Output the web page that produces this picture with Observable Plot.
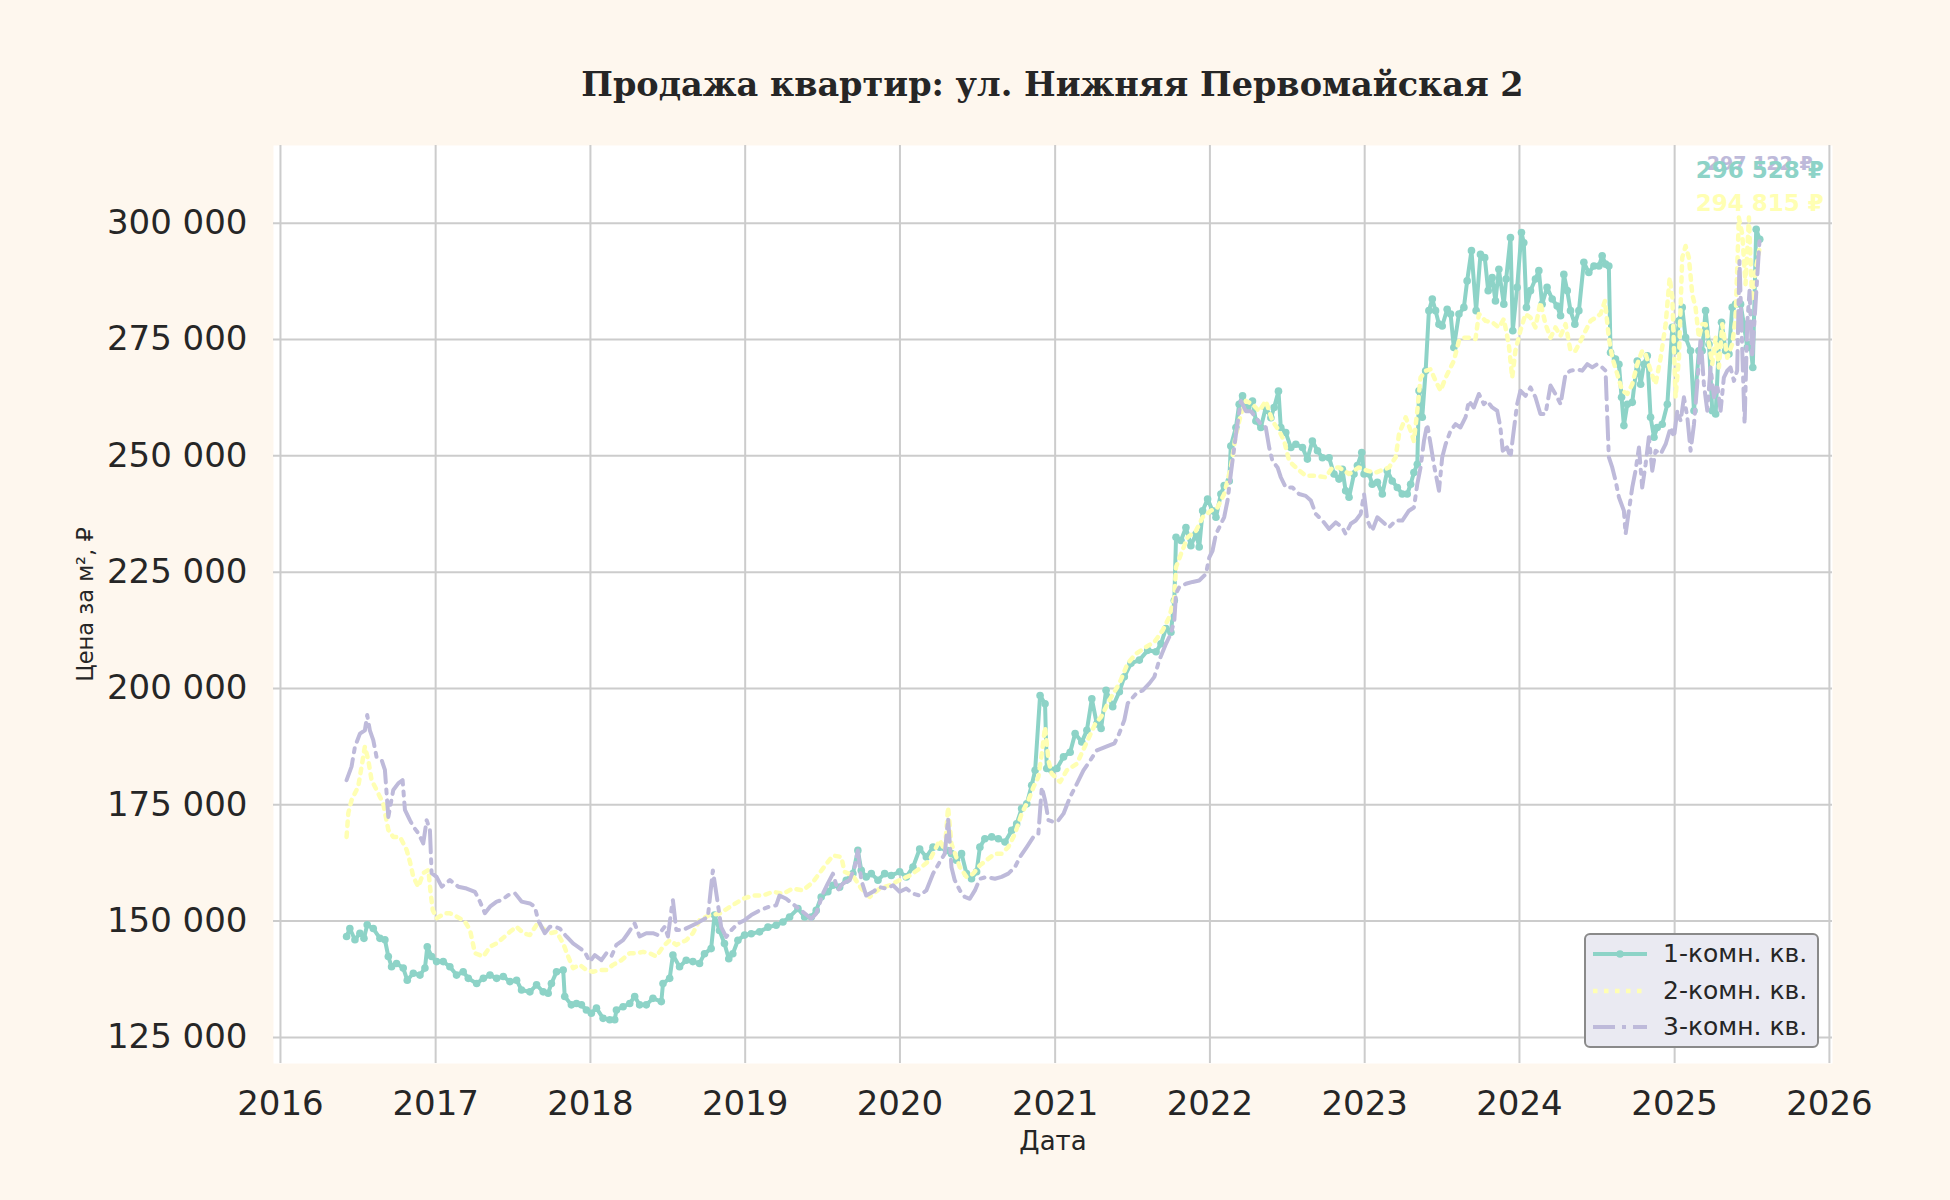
<!DOCTYPE html>
<html>
<head>
<meta charset="utf-8">
<script src="https://cdn.jsdelivr.net/npm/d3@7"></script>
<script src="https://cdn.jsdelivr.net/npm/@observablehq/plot@0.6"></script>
<style>
  html, body { margin: 0; padding: 0; background: #fef7ee; }
  #wrap { position: relative; width: 1950px; height: 1200px; background: #fef7ee; font-family: "DejaVu Sans", sans-serif; color: #262626; overflow: hidden; }
  #title { position: absolute; left: 273px; width: 1559px; top: 60px; height: 50px; line-height: 50px; text-align: center;
           font-family: "DejaVu Serif", serif; font-weight: bold; font-size: 33.5px; color: #262626; }
  #chart { position: absolute; left: 0; top: 120px; }
  #legend { position: absolute; left: 1584px; top: 933px; width: 235px; height: 115px; box-sizing: border-box;
            background: #eaeaf2; border: 2.5px solid #8a8a8a; border-radius: 6px; }
  .row { position: absolute; left: 0; height: 30px; width: 230px; }
  .row svg { position: absolute; left: 7px; top: 10px; }
  .row span { position: absolute; left: 77px; top: 0; line-height: 30px; font-size: 25px; color: #262626; white-space: nowrap; }
</style>
</head>
<body>
<div id="wrap">
  <div id="title">Продажа квартир: ул. Нижняя Первомайская 2</div>
  <div id="chart"></div>
  <div id="legend"></div>
</div>
<script>
// ---------- DATA (decimal year, price per m², ₽) ----------
const seriesNames = ["1-комн. кв.", "2-комн. кв.", "3-комн. кв."];
const seriesColors = ["#8dd3c7", "#ffffb3", "#bebada"];
const yearTicks = [2016, 2017, 2018, 2019, 2020, 2021, 2022, 2023, 2024, 2025, 2026];
const priceTicks = [125000, 150000, 175000, 200000, 225000, 250000, 275000, 300000];
const lastLabels = ["296 528 ₽", "294 815 ₽", "297 122 ₽"];

const oneRoom = [
[2016.426,146700],[2016.447,148400],[2016.480,146000],[2016.512,147400],[2016.538,146300],[2016.559,149200],[2016.598,148400],[2016.641,146300],[2016.673,146000],[2016.695,142400],
[2016.716,140200],[2016.748,140900],[2016.791,139900],[2016.817,137300],[2016.856,138800],[2016.899,138400],[2016.931,139900],[2016.946,144500],[2016.974,142400],[2017.006,141300],
[2017.049,141300],[2017.092,140200],[2017.135,138400],[2017.178,139100],[2017.211,137700],[2017.265,136600],[2017.308,137700],[2017.351,138400],[2017.394,137700],[2017.437,138100],
[2017.480,137000],[2017.523,137300],[2017.555,135200],[2017.609,134800],[2017.652,136300],[2017.695,134800],[2017.727,134500],[2017.748,136600],[2017.781,139100],[2017.824,139500],
[2017.834,133800],[2017.877,132000],[2017.910,132300],[2017.942,132000],[2017.974,130900],[2018.006,130200],[2018.039,131300],[2018.082,129100],[2018.125,128800],[2018.157,128800],
[2018.168,130900],[2018.211,131600],[2018.254,132300],[2018.286,133800],[2018.318,132000],[2018.361,132000],[2018.404,133400],[2018.458,132700],[2018.469,136600],[2018.512,137700],
[2018.533,142700],[2018.576,140200],[2018.619,141600],[2018.662,141300],
[2018.705,140900],[2018.737,143000],[2018.780,144100],[2018.802,151300],[2018.834,148000],[2018.866,145200],[2018.894,141900],[2018.920,143000],[2018.953,145900],[2018.996,147000],
[2019.039,147300],[2019.093,147700],[2019.147,148700],[2019.200,149100],[2019.244,149800],[2019.287,150900],[2019.341,152700],[2019.384,150900],[2019.427,150900],[2019.459,152300],
[2019.491,155200],[2019.534,156300],[2019.567,157700],[2019.610,157300],[2019.653,158800],[2019.696,160200],[2019.728,165200],[2019.750,160900],[2019.782,159500],[2019.815,160200],
[2019.858,158800],[2019.901,160200],[2019.944,159800],[2019.998,160600],[2020.041,159500],[2020.084,161600],[2020.127,165500],[2020.170,163800],[2020.213,165900],[2020.256,165900],
[2020.300,165200],[2020.332,164500],[2020.364,163100],[2020.397,164500],[2020.429,160200],[2020.461,159100],[2020.494,160600],[2020.515,165900],[2020.547,167700],[2020.591,168100],
[2020.634,167700],[2020.677,167000],[2020.720,169500],[2020.752,170900],[2020.784,174200],[2020.817,175200],[2020.849,179200],[2020.871,182400],[2020.903,198500],[2020.935,196700],
[2020.946,182800],[2020.978,182400],[2021.011,182800],[2021.054,185300],[2021.097,186300],[2021.129,190300],[2021.172,188500],[2021.205,191000],[2021.237,197800],[2021.269,192400],
[2021.297,191400],[2021.329,199600],[2021.372,196100],[2021.415,199300],[2021.447,202500],[2021.490,205400],[2021.544,206100],[2021.598,208200],[2021.652,207900],[2021.684,209600],
[2021.716,212900],[2021.748,212100],[2021.770,218900],[2021.781,232500],[2021.813,231800],[2021.845,234600],[2021.877,230700],[2021.910,233200],[2021.931,230400],[2021.953,238200],
[2021.985,240700],[2022.017,238200],[2022.039,236800],[2022.071,241800],[2022.092,243600],[2022.125,244600],[2022.135,252100],[2022.168,256100],[2022.189,261100],[2022.211,262900],
[2022.243,260400],[2022.275,261800],[2022.297,257500],[2022.329,256100],[2022.361,260400],[2022.394,258200],[2022.415,260400],[2022.443,263900],[2022.458,256100],[2022.490,255000],
[2022.523,251800],[2022.555,252500],[2022.598,251800],[2022.630,249300],[2022.662,253200],[2022.695,251100],[2022.727,249600],[2022.770,249600],[2022.802,246100],[2022.834,245000],
[2022.856,247100],[2022.877,242500],[2022.899,241100],[2022.931,246100],[2022.953,247900],[2022.981,250700],[2022.996,246100],[2023.028,246100],[2023.049,243900],[2023.082,244300],
[2023.114,241800],[2023.146,246800],[2023.178,244600],[2023.211,243200],[2023.243,241800],[2023.275,241800],[2023.297,243900],[2023.318,246400],[2023.340,248200],
[2023.351,264000],[2023.372,258300],[2023.394,268300],[2023.415,281200],[2023.437,283700],[2023.458,281200],[2023.480,278300],[2023.501,277900],[2023.533,281500],[2023.555,280500],
[2023.576,273300],[2023.609,280500],[2023.641,281900],[2023.662,287600],[2023.690,294100],[2023.720,281200],[2023.748,293300],[2023.776,292600],[2023.798,285500],[2023.824,288300],
[2023.845,283300],[2023.867,290100],[2023.899,282600],[2023.914,288000],[2023.942,296900],[2023.957,276900],[2023.985,286200],[2024.013,298000],[2024.028,295800],[2024.045,281900],
[2024.071,285500],[2024.103,288000],[2024.125,289800],[2024.146,282600],[2024.178,286200],[2024.211,283700],[2024.243,282200],[2024.265,280100],[2024.286,289000],[2024.308,285500],
[2024.329,281200],[2024.357,278300],[2024.383,281200],[2024.415,291600],[2024.447,289400],[2024.480,290800],[2024.512,290800],[2024.533,293000],[2024.555,291200],[2024.576,290800],
[2024.587,272200],[2024.619,270800],[2024.641,269700],[2024.658,262600],[2024.673,256500],[2024.695,261100],[2024.727,261500],[2024.759,270400],[2024.781,265400],[2024.802,269700],
[2024.824,271500],[2024.845,258300],[2024.867,254000],[2024.888,256100],[2024.920,256800],[2024.953,261100],[2024.985,277600],[2025.006,272600],[2025.028,279000],[2025.049,281900],
[2025.071,275400],[2025.103,272600],[2025.125,259700],[2025.157,272600],[2025.178,272600],[2025.200,281200],[2025.222,274000],[2025.243,259700],[2025.265,259000],[2025.286,274000],
[2025.303,278700],[2025.329,272600],[2025.351,271900],[2025.372,281900],[2025.394,282600],[2025.426,282600],[2025.447,278300],[2025.469,273300],[2025.490,274000],[2025.505,269000],
[2025.527,298700],[2025.550,296528]
];

const twoRoom = [
[2016.426,168100],[2016.437,173200],[2016.458,176000],[2016.501,178900],[2016.544,187500],[2016.566,184600],[2016.587,180300],[2016.619,178200],[2016.662,175300],[2016.695,169600],
[2016.727,168100],[2016.770,168100],[2016.813,165300],[2016.834,162800],[2016.856,159500],[2016.888,157400],[2016.920,160300],[2016.953,161000],[2016.968,156000],[2016.981,152400],
[2017.006,150600],[2017.060,151700],[2017.092,151700],[2017.135,151000],[2017.189,149900],[2017.222,148100],[2017.254,143100],[2017.308,142400],[2017.351,144500],[2017.394,145200],
[2017.447,146700],[2017.480,147700],[2017.523,148800],[2017.566,147400],[2017.609,147000],[2017.652,149200],[2017.695,148400],[2017.738,147400],[2017.781,147700],[2017.824,145200],
[2017.856,142400],[2017.888,139900],[2017.931,140600],[2017.974,139500],[2018.017,139100],[2018.060,139500],[2018.103,139500],[2018.146,140600],[2018.200,141600],[2018.254,143100],
[2018.297,143100],[2018.340,143400],[2018.383,143100],[2018.426,142400],[2018.469,144500],[2018.512,145900],[2018.555,144900],[2018.619,145900],[2018.662,147400],
[2018.705,150200],[2018.769,151300],[2018.834,151600],[2018.899,153000],[2018.985,154800],[2019.050,155500],[2019.114,155500],[2019.179,156300],[2019.244,155900],[2019.308,157000],
[2019.373,156600],[2019.438,158400],[2019.502,161300],[2019.567,164100],[2019.621,163800],[2019.642,160600],[2019.696,159800],[2019.750,157000],[2019.804,155200],[2019.869,157000],
[2019.933,157700],[2019.998,158800],[2020.063,159800],[2020.127,161300],[2020.192,163100],[2020.256,167400],[2020.289,165200],[2020.310,174500],[2020.332,166600],[2020.386,161600],
[2020.429,159500],[2020.472,160200],[2020.515,162000],[2020.558,163100],[2020.612,164500],[2020.655,164500],[2020.698,165900],[2020.741,168800],[2020.784,173100],[2020.828,176000],
[2020.860,178800],[2020.892,181000],[2020.914,186000],[2020.935,191700],[2020.957,184500],[2020.978,181700],[2021.032,179900],[2021.075,182400],[2021.140,183800],[2021.205,188500],
[2021.259,192400],[2021.297,193900],[2021.351,197500],[2021.415,201100],[2021.469,205400],[2021.523,207500],[2021.587,208900],[2021.641,210000],[2021.695,212500],[2021.738,215400],
[2021.770,219600],[2021.781,226100],[2021.813,228900],[2021.856,232500],[2021.910,233900],[2021.953,236800],[2022.006,238200],[2022.049,238900],[2022.092,241800],[2022.135,247500],
[2022.168,254600],[2022.200,258900],[2022.232,261800],[2022.275,261100],[2022.318,259600],[2022.361,261800],[2022.404,257500],[2022.447,255400],[2022.480,253200],[2022.512,248900],
[2022.555,247500],[2022.619,245700],[2022.684,245700],[2022.748,245400],[2022.791,247500],[2022.834,247500],[2022.899,246100],[2022.963,247500],[2023.017,246800],[2023.071,246400],
[2023.157,247500],[2023.200,249700],[2023.222,254700],[2023.265,258300],[2023.297,255400],[2023.318,253200],[2023.340,259700],[2023.361,266800],[2023.394,268300],[2023.426,268600],
[2023.458,266100],[2023.490,264000],[2023.523,266800],[2023.555,269000],[2023.576,270400],[2023.609,274700],[2023.641,275400],[2023.673,275400],[2023.716,275100],[2023.738,280500],
[2023.781,279000],[2023.824,278700],[2023.867,277600],[2023.899,279400],[2023.931,274000],[2023.953,266800],[2023.974,272600],[2024.006,276900],[2024.039,280500],[2024.071,279700],
[2024.103,277600],[2024.135,283000],[2024.168,278300],[2024.200,275400],[2024.232,277600],[2024.265,275800],[2024.297,278300],[2024.329,272600],[2024.361,272600],[2024.394,274700],
[2024.426,276900],[2024.458,279000],[2024.490,279700],[2024.523,280500],[2024.551,283300],[2024.576,275400],[2024.598,271100],[2024.630,267600],[2024.662,264000],[2024.695,263300],
[2024.727,265400],[2024.759,269700],[2024.791,272600],[2024.813,271900],[2024.845,268300],[2024.877,265400],[2024.910,271100],[2024.942,278300],[2024.968,288300],[2024.985,284000],
[2025.006,262600],[2025.028,271100],[2025.049,292600],[2025.071,295100],[2025.092,292600],[2025.114,284700],[2025.135,281900],[2025.157,275400],[2025.178,278300],[2025.200,278300],
[2025.222,274000],[2025.243,269700],[2025.265,275400],[2025.286,269000],[2025.308,278300],[2025.340,271100],[2025.372,274000],[2025.394,279700],[2025.415,301200],[2025.437,297600],
[2025.458,286900],[2025.480,301200],[2025.501,283300],[2025.523,289800],[2025.550,294815]
];

const threeRoom = [
[2016.426,180300],[2016.458,183200],[2016.480,187500],[2016.512,190300],[2016.544,191000],[2016.559,194300],[2016.576,191000],[2016.598,188900],[2016.619,185300],[2016.652,184600],
[2016.673,182500],[2016.695,172400],[2016.727,178200],[2016.759,179600],[2016.787,180300],[2016.802,173900],[2016.834,171700],[2016.856,170300],[2016.888,168900],[2016.920,166700],
[2016.942,171700],[2016.963,169600],[2016.974,160300],[2017.006,159500],[2017.039,157400],[2017.092,158800],[2017.146,157400],[2017.200,157000],[2017.254,156300],[2017.286,154200],
[2017.318,151700],[2017.351,153100],[2017.394,154200],[2017.426,154500],[2017.469,155600],[2017.512,156000],[2017.555,154200],[2017.609,153800],[2017.641,153100],[2017.662,150200],
[2017.684,148800],[2017.705,147400],[2017.738,148800],[2017.770,148800],[2017.802,148400],[2017.845,146700],[2017.888,145200],[2017.931,144200],[2017.963,143400],[2017.996,141300],
[2018.028,142700],[2018.071,141600],[2018.103,143100],[2018.135,142400],[2018.168,144900],[2018.211,145900],[2018.243,147400],[2018.286,149500],[2018.318,146700],[2018.361,147400],
[2018.404,147400],[2018.437,147000],[2018.480,148800],[2018.501,146700],[2018.523,152400],[2018.533,154500],[2018.555,148100],[2018.598,148100],[2018.641,148800],[2018.684,149500],
[2018.759,150900],[2018.791,160900],[2018.817,155200],[2018.845,148700],[2018.877,146600],[2018.909,148000],[2018.953,149500],[2018.996,150200],[2019.039,151300],[2019.093,152300],
[2019.147,153000],[2019.200,153400],[2019.222,155500],[2019.265,154800],[2019.319,153400],[2019.373,152000],[2019.427,150500],[2019.459,151600],[2019.502,155900],[2019.534,158100],
[2019.567,160200],[2019.599,156600],[2019.631,158100],[2019.675,158800],[2019.707,161600],[2019.728,165200],[2019.750,158800],[2019.782,155500],[2019.825,156300],[2019.869,157300],
[2019.912,157000],[2019.955,157700],[2019.998,156300],[2020.041,157000],[2020.084,155900],[2020.127,155500],[2020.170,156600],[2020.213,160200],[2020.256,162700],[2020.289,164500],
[2020.310,172000],[2020.332,161600],[2020.353,158800],[2020.386,156600],[2020.418,155200],[2020.450,154800],[2020.483,156600],[2020.515,159100],[2020.558,159500],[2020.612,159100],
[2020.655,159500],[2020.698,160200],[2020.741,161600],[2020.774,163800],[2020.817,165900],[2020.860,168100],[2020.892,168800],[2020.914,178800],[2020.935,176000],[2020.957,171700],
[2020.989,171300],[2021.022,171700],[2021.054,173100],[2021.097,176700],[2021.140,179500],[2021.183,182400],[2021.226,184500],[2021.269,186700],[2021.330,187500],[2021.383,188200],
[2021.415,190400],[2021.447,193200],[2021.469,196800],[2021.523,198900],[2021.566,199600],[2021.609,201100],[2021.641,202500],[2021.673,206100],[2021.716,209600],[2021.748,211800],
[2021.770,214600],[2021.781,220400],[2021.802,221800],[2021.845,222500],[2021.888,222900],[2021.931,223200],[2021.974,224600],[2021.996,228200],[2022.017,229600],[2022.039,233200],
[2022.060,234600],[2022.092,236800],[2022.114,240400],[2022.135,246100],[2022.168,254600],[2022.200,261800],[2022.232,259600],[2022.265,259600],[2022.297,258200],[2022.329,256800],
[2022.361,256100],[2022.383,251800],[2022.404,248900],[2022.437,247500],[2022.458,245400],[2022.490,243200],[2022.533,243200],[2022.576,241800],[2022.619,241400],[2022.652,240400],
[2022.684,237500],[2022.727,236100],[2022.770,234300],[2022.813,235700],[2022.856,234600],[2022.877,233200],[2022.910,235400],[2022.942,236100],[2022.974,237500],[2022.996,241800],
[2023.017,236100],[2023.049,233900],[2023.082,236800],[2023.157,234600],[2023.200,236100],[2023.243,236100],[2023.286,238200],[2023.318,238900],[2023.340,243900],[2023.361,247500],
[2023.383,253200],[2023.404,256800],[2023.426,252500],[2023.447,248200],[2023.480,242500],[2023.501,249700],[2023.523,252500],[2023.555,255400],[2023.587,256800],[2023.619,256100],
[2023.652,258300],[2023.673,261800],[2023.705,260400],[2023.738,263300],[2023.770,261100],[2023.791,261800],[2023.824,260400],[2023.856,259700],[2023.877,256100],[2023.892,251100],
[2023.920,251800],[2023.942,249700],[2023.963,255400],[2023.985,261100],[2024.006,264000],[2024.039,262900],[2024.071,264700],[2024.103,262600],[2024.135,259000],[2024.168,259000],
[2024.200,265100],[2024.232,263300],[2024.265,261100],[2024.297,267600],[2024.329,268300],[2024.372,268600],[2024.404,268300],[2024.437,269700],[2024.469,269000],[2024.501,269700],
[2024.533,269000],[2024.555,268300],[2024.566,258300],[2024.576,249700],[2024.598,247500],[2024.619,244700],[2024.641,241100],[2024.673,238200],[2024.684,233200],[2024.705,238200],
[2024.727,243200],[2024.748,246800],[2024.770,251800],[2024.791,243200],[2024.813,248200],[2024.834,254000],[2024.856,246800],[2024.877,251100],[2024.910,250400],[2024.942,252500],
[2024.974,256100],[2024.996,254000],[2025.017,259700],[2025.039,257500],[2025.060,262600],[2025.082,258300],[2025.103,251100],[2025.125,256800],[2025.146,265400],[2025.168,275400],
[2025.189,265400],[2025.211,259700],[2025.232,269000],[2025.254,262600],[2025.275,265400],[2025.297,259700],[2025.318,266800],[2025.340,268300],[2025.361,269000],[2025.383,266100],
[2025.404,268300],[2025.419,291900],[2025.437,272600],[2025.452,256800],[2025.469,278300],[2025.484,285500],[2025.501,271100],[2025.550,297122]
];

// ---------- helpers ----------
const toDate = y => {
  const yr = Math.floor(y);
  const s = Date.UTC(yr, 0, 1), e = Date.UTC(yr + 1, 0, 1);
  return new Date(s + (y - yr) * (e - s));
};
const toRows = (arr, k) => arr.map(([t, v]) => ({date: toDate(t), value: v, series: seriesNames[k]}));
const rows1 = toRows(oneRoom, 0), rows2 = toRows(twoRoom, 1), rows3 = toRows(threeRoom, 2);
const last = rows => [rows[rows.length - 1]];
const xTickDates = yearTicks.map(y => new Date(Date.UTC(y, 0, 1)));
const fmt = d => d3.format(",")(d).replace(/,/g, " ");

const chart = Plot.plot({
  width: 1950,
  height: 1080,
  marginTop: 25,
  marginBottom: 137,
  marginLeft: 273,
  marginRight: 118,
  style: {background: "transparent", fontFamily: "DejaVu Sans", fontSize: "34px", color: "#262626", overflow: "visible"},
  x: {type: "utc", domain: [toDate(2015.955), toDate(2026.02)]},
  y: {domain: [119400, 316700]},
  marks: [
    Plot.frame({fill: "#ffffff", stroke: null}),
    Plot.gridX(xTickDates, {stroke: "#cccccc", strokeOpacity: 1, strokeWidth: 2}),
    Plot.gridY(priceTicks, {stroke: "#cccccc", strokeOpacity: 1, strokeWidth: 2}),
    Plot.axisX(xTickDates, {tickSize: 0, tickPadding: 27, tickFormat: d3.utcFormat("%Y"), fontSize: 34, label: null}),
    Plot.axisY(priceTicks, {tickSize: 0, tickPadding: 26, tickFormat: fmt, fontSize: 34, label: null}),
    Plot.line(rows1, {x: "date", y: "value", stroke: seriesColors[0], strokeWidth: 4, strokeLinejoin: "round"}),
    Plot.dot(rows1, {x: "date", y: "value", r: 3.8, fill: seriesColors[0], stroke: null}),
    Plot.line(rows2, {x: "date", y: "value", stroke: seriesColors[1], strokeWidth: 4.5, strokeDasharray: "4.5,6.5"}),
    Plot.line(rows3, {x: "date", y: "value", stroke: seriesColors[2], strokeWidth: 4, strokeDasharray: "22,7,4,7"}),
    Plot.text(last(rows3), {x: "date", y: "value", text: () => lastLabels[2], dy: -73, fill: seriesColors[2], fontSize: 19, fontWeight: "bold", textAnchor: "middle"}),
    Plot.text(last(rows1), {x: "date", y: "value", text: () => lastLabels[0], dy: -69, fill: seriesColors[0], fontSize: 23, fontWeight: "bold", textAnchor: "middle"}),
    Plot.text(last(rows2), {x: "date", y: "value", text: () => lastLabels[1], dy: -44, fill: seriesColors[1], fontSize: 23, fontWeight: "bold", textAnchor: "middle"}),
    Plot.text(["Цена за м², ₽"], {frameAnchor: "left", textAnchor: "middle", dx: -188, rotate: -90, fontSize: 22.5, fill: "#262626"}),
    Plot.text(["Дата"], {frameAnchor: "bottom", dy: 86, fontSize: 26, fill: "#262626"})
  ]
});
document.getElementById("chart").appendChild(chart);

// ---------- legend ----------
const legend = document.getElementById("legend");
const samples = [
  `<line x1="0" y1="5" x2="54" y2="5" stroke="${seriesColors[0]}" stroke-width="4"/><circle cx="27" cy="5" r="3.8" fill="${seriesColors[0]}"/>`,
  `<line x1="0" y1="5" x2="54" y2="5" stroke="${seriesColors[1]}" stroke-width="4.5" stroke-dasharray="4.5,6.5"/>`,
  `<line x1="0" y1="5" x2="54" y2="5" stroke="${seriesColors[2]}" stroke-width="4" stroke-dasharray="22,7,4,7"/>`
];
seriesNames.forEach((name, i) => {
  const row = document.createElement("div");
  row.className = "row";
  row.style.top = (4 + i * 36.5) + "px";
  row.innerHTML = `<svg width="56" height="10">${samples[i]}</svg><span>${name}</span>`;
  legend.appendChild(row);
});
</script>
</body>
</html>
